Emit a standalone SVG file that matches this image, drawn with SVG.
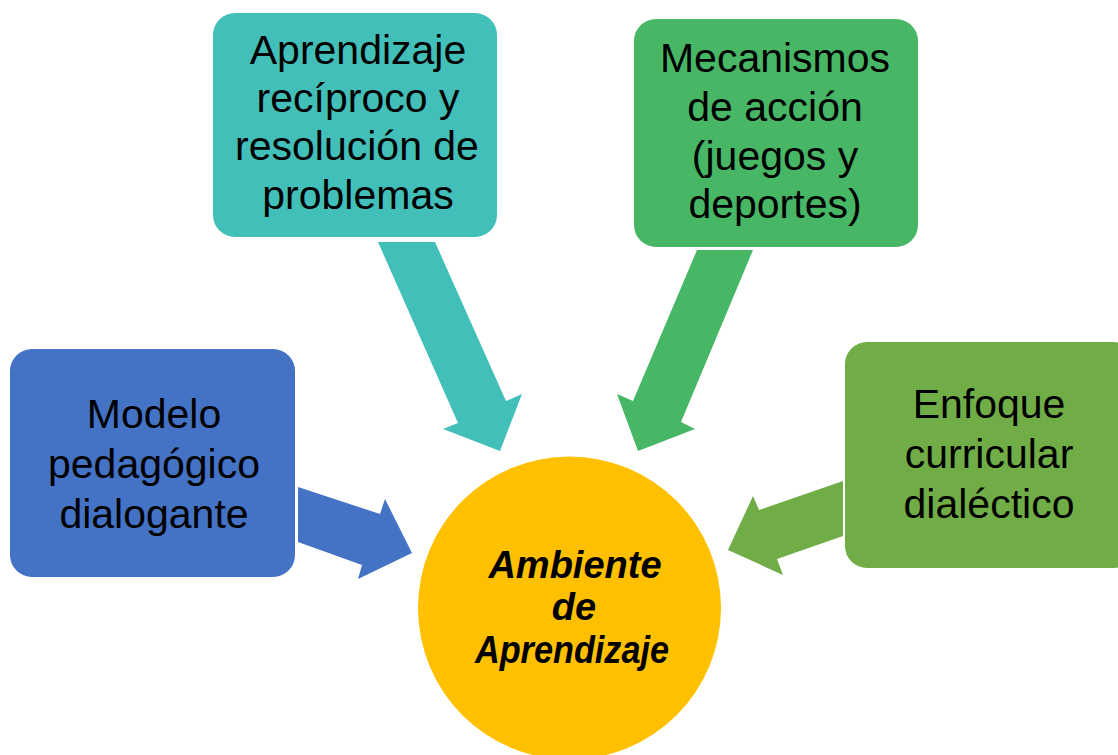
<svg xmlns="http://www.w3.org/2000/svg" width="1118" height="755" viewBox="0 0 1118 755">
<style>
.t{font-family:"Liberation Sans",Arial,sans-serif;font-size:41px;fill:#000;text-anchor:middle}
.c{font-family:"Liberation Sans",Arial,sans-serif;font-size:38px;font-weight:bold;font-style:italic;fill:#000;text-anchor:middle}
</style>
<rect width="1118" height="755" fill="#fff"/>
<g id="connectors">
<polygon points="298,487 380,514 385,499 412,553 358,579 362,565 298,542" fill="#4472C4"/>
<polygon points="378,242 435,242 506,401 522,394 500,451 443,429 458,423" fill="#43BFB9"/>
<polygon points="697,250 753,250 681,422 695,429 638,451 617,394 633,401" fill="#47B766"/>
<polygon points="843,481 759,510 753,496 728,550 783,575 777,559 843,536" fill="#70AD47"/>
</g>
<g id="node-modelo">
<rect x="10" y="349" width="285" height="228" rx="22" fill="#4472C4"/>
<text class="t" x="154" y="428">Modelo</text>
<text class="t" x="154" y="478">pedagógico</text>
<text class="t" x="154" y="528">dialogante</text>
</g>
<g id="node-aprendizaje">
<rect x="213" y="13" width="284" height="224" rx="22" fill="#43BFB9"/>
<text class="t" x="358" y="64">Aprendizaje</text>
<text class="t" x="358" y="112">recíproco y</text>
<text class="t" x="357" y="160">resolución de</text>
<text class="t" x="358" y="209">problemas</text>
</g>
<g id="node-mecanismos">
<rect x="634" y="19" width="284" height="228" rx="22" fill="#47B766"/>
<text class="t" x="775" y="72">Mecanismos</text>
<text class="t" x="775" y="121">de acción</text>
<text class="t" x="775" y="170">(juegos y</text>
<text class="t" x="775" y="218">deportes)</text>
</g>
<g id="node-enfoque">
<rect x="845" y="342" width="290" height="226" rx="22" fill="#70AD47"/>
<text class="t" x="989" y="418">Enfoque</text>
<text class="t" x="989" y="468">curricular</text>
<text class="t" x="989" y="518">dialéctico</text>
</g>
<g id="node-ambiente">
<circle cx="569.5" cy="608" r="151.5" fill="#FFC000"/>
<text class="c" x="575" y="578">Ambiente</text>
<text class="c" x="574" y="620">de</text>
<text class="c" x="572" y="663" textLength="194" lengthAdjust="spacingAndGlyphs">Aprendizaje</text>
</g>
</svg>
